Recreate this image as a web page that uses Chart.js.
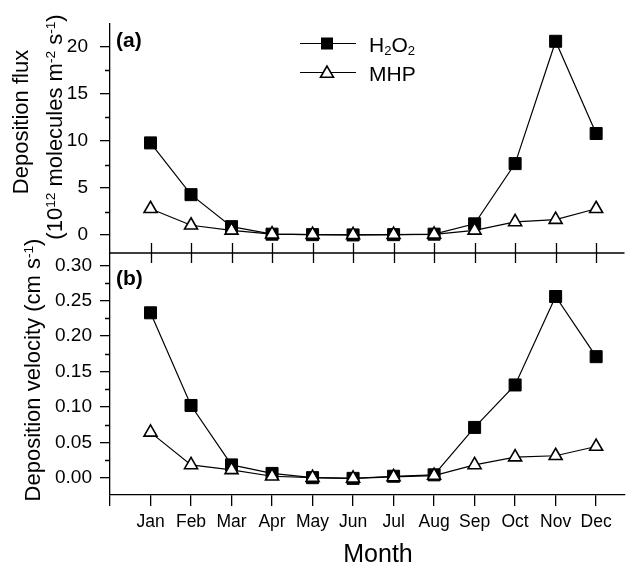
<!DOCTYPE html>
<html>
<head>
<meta charset="utf-8">
<script src="https://cdn.jsdelivr.net/npm/chart.js@4/dist/chart.umd.min.js"></script>
<style>
  html, body { margin: 0; padding: 0; background: #fff; }
  #wrap { position: relative; width: 634px; height: 569px; overflow: hidden;
          font-family: "Liberation Sans", Arial, Helvetica, sans-serif; color: #000; }
  canvas { position: absolute; left: 0; top: 0; }
  .txt { position: absolute; white-space: nowrap; line-height: 1; }
  .rot { transform: translate(-50%, -50%) rotate(-90deg); font-size: 22px; }
  .mid { transform: translateY(-50%); }
  sup { font-size: 0.62em; vertical-align: 0.55em; line-height: 0; }
  sub { font-size: 0.62em; vertical-align: -0.3em; line-height: 0; }
</style>
</head>
<body>
<div id="wrap">
  <canvas id="chartA" width="634" height="569"></canvas>
  <canvas id="chartB" width="634" height="569"></canvas>

  <div class="txt rot" style="left:21px; top:122px;">Deposition flux</div>
  <div class="txt rot" style="left:55px; top:127px;">(10<sup>12</sup> molecules m<sup>-2</sup> s<sup>-1</sup>)</div>
  <div class="txt rot" style="left:33px; top:370px;">Deposition velocity (cm s<sup>-1</sup>)</div>

  <div class="txt mid" style="left:116px; top:39px; font-size:21px; font-weight:bold;">(a)</div>
  <div class="txt mid" style="left:116px; top:277px; font-size:21px; font-weight:bold;">(b)</div>

  <div class="txt mid" style="left:369px; top:44px; font-size:21px;">H<sub>2</sub>O<sub>2</sub></div>
  <div class="txt mid" style="left:369px; top:73px; font-size:21px;">MHP</div>

  <div class="txt" style="left:378px; top:553px; font-size:25px; transform:translate(-50%,-50%);">Month</div>
</div>

<script>
// monthly values
const months = ['Jan', 'Feb', 'Mar', 'Apr', 'May', 'Jun', 'Jul', 'Aug', 'Sep', 'Oct', 'Nov', 'Dec'];

// (a) deposition flux, 10^12 molecules m-2 s-1
const fluxH2O2 = [9.8, 4.3, 0.9, 0.1, 0.05, 0.02, 0.05, 0.1, 1.2, 7.6, 20.6, 10.8];
const fluxMHP  = [2.8, 1.05, 0.5, 0.1, 0.05, 0.03, 0.05, 0.08, 0.5, 1.4, 1.65, 2.8];

// (b) deposition velocity, cm s-1
const velH2O2 = [0.233, 0.102, 0.018, 0.006, 0.0, -0.001, 0.002, 0.004, 0.071, 0.131, 0.256, 0.171];
const velMHP  = [0.064, 0.018, 0.011, 0.002, 0.0, -0.001, 0.001, 0.003, 0.018, 0.029, 0.031, 0.044];

// tick labels
const fluxTicks  = [0, 5, 10, 15, 20];
const fluxMinor  = [2.5, 7.5, 12.5, 17.5];
const velTicks   = [0, 0.05, 0.10, 0.15, 0.20, 0.25, 0.30];
const velMinor   = [0.025, 0.075, 0.125, 0.175, 0.225, 0.275];
const monthTicks = [-1, 0, 1, 2, 3, 4, 5, 6, 7, 8, 9, 10, 11];

const FONT = '"Liberation Sans", Arial, Helvetica, sans-serif';
const LW = 1.3;

const toXY = arr => arr.map((v, i) => ({ x: i, y: v }));

function h2o2Set(values) {
  return {
    label: 'H2O2', data: toXY(values), order: 1,
    borderColor: '#000', borderWidth: 1.2,
    pointStyle: 'rect', pointRadius: 8.5, pointHoverRadius: 8.5,
    pointBackgroundColor: '#000', pointBorderColor: '#000', pointBorderWidth: 1,
    clip: false,
  };
}
function mhpSet(values) {
  return {
    label: 'MHP', data: toXY(values), order: 0,
    borderColor: '#000', borderWidth: 1.2,
    pointStyle: 'triangle', pointRadius: 7.5, pointHoverRadius: 7.5,
    pointBackgroundColor: '#fff', pointBorderColor: '#000', pointBorderWidth: 1.6,
    clip: false,
  };
}

function yScale(min, max, ticks, fmt, pad) {
  return {
    type: 'linear', min, max,
    afterFit: s => { s.width = 110; },
    afterBuildTicks: s => { s.ticks = ticks.map(v => ({ value: v })); },
    border: { display: true, color: '#000', width: LW },
    grid: { drawOnChartArea: false, drawTicks: true, tickLength: 10, color: '#000', lineWidth: LW },
    ticks: { color: '#000', padding: pad, font: { family: FONT, size: 19 }, callback: fmt },
  };
}

// minor y ticks + inward month ticks on the shared border
function frame(minor, inwardUp, drawTop) {
  return {
    id: 'frame',
    afterDraw(chart) {
      const { ctx, chartArea: a, scales: { x, y } } = chart;
      ctx.save();
      ctx.strokeStyle = '#000';
      ctx.lineWidth = LW;
      ctx.beginPath();
      minor.forEach(v => {
        const py = Math.round(y.getPixelForValue(v)) + 0.5;
        ctx.moveTo(a.left, py); ctx.lineTo(a.left - 5, py);
      });
      const edge = inwardUp ? a.bottom : a.top;
      monthTicks.slice(1).forEach(v => {
        const px = Math.round(x.getPixelForValue(v)) + 0.5;
        ctx.moveTo(px, edge); ctx.lineTo(px, inwardUp ? edge - 10 : edge + 10);
      });
      if (drawTop) { ctx.moveTo(a.left, a.top); ctx.lineTo(a.right, a.top); }
      ctx.stroke();
      ctx.restore();
    },
  };
}

const legendMarks = {
  id: 'legendMarks',
  afterDraw(chart) {
    const ctx = chart.ctx;
    ctx.save();
    ctx.strokeStyle = '#000';
    ctx.lineWidth = 1.2;
    [43.5, 72.5].forEach(ly => {
      ctx.beginPath(); ctx.moveTo(300, ly); ctx.lineTo(356, ly); ctx.stroke();
    });
    ctx.fillStyle = '#000';
    ctx.fillRect(321, 37.5, 12, 12);
    const r = 7.5, cx = 327, cy = 73.5;
    ctx.beginPath();
    ctx.moveTo(cx, cy - r);
    ctx.lineTo(cx - r * Math.sin(Math.PI / 3), cy + r / 2);
    ctx.lineTo(cx + r * Math.sin(Math.PI / 3), cy + r / 2);
    ctx.closePath();
    ctx.fillStyle = '#fff'; ctx.fill();
    ctx.lineWidth = 1.6; ctx.stroke();
    ctx.restore();
  },
};

const common = {
  responsive: false,
  animation: false,
  events: [],
  plugins: { legend: { display: false }, tooltip: { enabled: false } },
};

new Chart(document.getElementById('chartA'), {
  type: 'line',
  data: { datasets: [h2o2Set(fluxH2O2), mhpSet(fluxMHP)] },
  options: {
    ...common,
    layout: { padding: { left: 0, right: 2, top: 23, bottom: 316 } },
    scales: {
      x: { type: 'linear', min: -1, max: 11.7, display: false },
      y: yScale(-1.9, 22.5, fluxTicks, v => String(v), 12),
    },
  },
  plugins: [frame(fluxMinor, true, false), legendMarks],
});

new Chart(document.getElementById('chartB'), {
  type: 'line',
  data: { datasets: [h2o2Set(velH2O2), mhpSet(velMHP)] },
  options: {
    ...common,
    layout: { padding: { left: 0, right: 2, top: 253, bottom: 34 } },
    scales: {
      x: {
        type: 'linear', min: -1, max: 11.7,
        afterFit: s => { s.height = 40; },
        afterBuildTicks: s => { s.ticks = monthTicks.map(v => ({ value: v })); },
        border: { display: true, color: '#000', width: LW },
        grid: { drawOnChartArea: false, drawTicks: true, tickLength: 11, color: '#000', lineWidth: LW },
        ticks: {
          color: '#000', padding: 6, maxRotation: 0, autoSkip: false,
          font: { family: FONT, size: 17.5 },
          callback: v => months[v] || '',
        },
      },
      y: yScale(-0.0245, 0.3175, velTicks, v => v.toFixed(2), 8),
    },
  },
  plugins: [frame(velMinor, false, true)],
});
</script>
</body>
</html>
